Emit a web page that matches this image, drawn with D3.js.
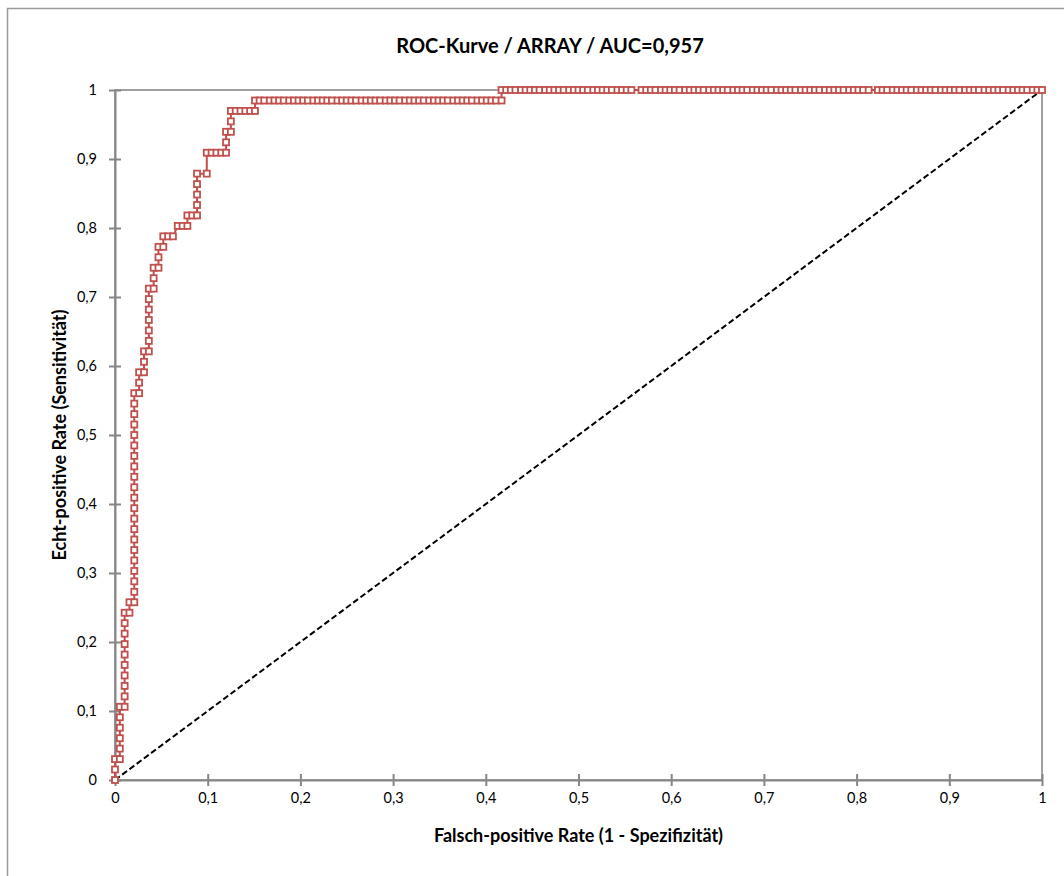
<!DOCTYPE html>
<html>
<head>
<meta charset="utf-8">
<script src="https://cdn.jsdelivr.net/npm/d3@7"></script>
<style>
  body { margin: 0; background: #fff; }
  text { font-family: Lato, 'Open Sans', sans-serif; fill: #000; }
</style>
</head>
<body>
<svg id="chart" width="1064" height="876"></svg>
<script>
'use strict'

// ROC points (false positive rate / true positive rate)
const fpr = [
  0, 0, 0,
  0.0052, 0.0052, 0.0052, 0.0052, 0.0052, 0.0052,
  0.0104, 0.0104, 0.0104, 0.0104, 0.0104, 0.0104, 0.0104, 0.0104, 0.0104, 0.0104,
  0.0156, 0.0156,
  0.0208, 0.0208, 0.0208, 0.0208, 0.0208, 0.0208, 0.0208, 0.0208, 0.0208, 0.0208,
  0.0208, 0.0208, 0.0208, 0.0208, 0.0208, 0.0208, 0.0208, 0.0208, 0.0208, 0.0208, 0.0208,
  0.026, 0.026, 0.026,
  0.0313, 0.0313, 0.0313,
  0.0365, 0.0365, 0.0365, 0.0365, 0.0365, 0.0365, 0.0365,
  0.0417, 0.0417, 0.0417,
  0.0469, 0.0469, 0.0469,
  0.0521, 0.0521,
  0.0573, 0.0625,
  0.0677, 0.0729, 0.0781,
  0.0781, 0.0833, 0.0885,
  0.0885, 0.0885, 0.0885, 0.0885,
  0.099,
  0.099, 0.1042, 0.1094, 0.1146, 0.1198,
  0.1198, 0.1198,
  0.125, 0.125, 0.125,
  0.1302, 0.1354, 0.1406, 0.1458, 0.151,
  0.151, 0.156, 0.161, 0.167, 0.172, 0.177, 0.182, 0.188, 0.193, 0.198,
  0.203, 0.208, 0.214, 0.219, 0.224, 0.229, 0.234, 0.24, 0.245, 0.25,
  0.255, 0.26, 0.266, 0.271, 0.276, 0.281, 0.286, 0.292, 0.297, 0.302,
  0.307, 0.313, 0.318, 0.323, 0.328, 0.333, 0.339, 0.344, 0.349, 0.354,
  0.359, 0.365, 0.37, 0.375, 0.38, 0.385, 0.391, 0.396, 0.401, 0.406,
  0.411, 0.417,
  0.417, 0.422, 0.427, 0.432, 0.438, 0.443, 0.448, 0.453, 0.458, 0.464,
  0.469, 0.474, 0.479, 0.484, 0.49, 0.495, 0.5, 0.505, 0.51, 0.516,
  0.521, 0.526, 0.531, 0.536, 0.542, 0.547, 0.552, 0.557,
  0.568, 0.573, 0.578, 0.583, 0.589, 0.594, 0.599, 0.604, 0.609, 0.615,
  0.62, 0.625, 0.63, 0.635, 0.641, 0.646, 0.651, 0.656, 0.661, 0.667,
  0.672, 0.677, 0.682, 0.688, 0.693, 0.698, 0.703, 0.708, 0.714, 0.719,
  0.724, 0.729, 0.734, 0.74, 0.745, 0.75, 0.755, 0.76, 0.766, 0.771,
  0.776, 0.781, 0.786, 0.792, 0.797, 0.802, 0.807, 0.813,
  0.823, 0.828, 0.833, 0.839, 0.844, 0.849, 0.854, 0.859, 0.865, 0.87,
  0.875, 0.88, 0.885, 0.891, 0.896, 0.901, 0.906, 0.911, 0.917, 0.922,
  0.927, 0.932, 0.938, 0.943, 0.948, 0.953, 0.958, 0.964, 0.969, 0.974,
  0.979, 0.984, 0.99, 0.995, 1
]

const tpr = [
  0, 0.0152, 0.0303,
  0.0303, 0.0455, 0.0606, 0.0758, 0.0909, 0.1061,
  0.1061, 0.1212, 0.1364, 0.1515, 0.1667, 0.1818, 0.197, 0.2121, 0.2273, 0.2424,
  0.2424, 0.2576,
  0.2576, 0.2727, 0.2879, 0.303, 0.3182, 0.3333, 0.3485, 0.3636, 0.3788, 0.3939,
  0.4091, 0.4242, 0.4394, 0.4545, 0.4697, 0.4848, 0.5, 0.5152, 0.5303, 0.5455, 0.5606,
  0.5606, 0.5758, 0.5909,
  0.5909, 0.6061, 0.6212,
  0.6212, 0.6364, 0.6515, 0.6667, 0.6818, 0.697, 0.7121,
  0.7121, 0.7273, 0.7424,
  0.7424, 0.7576, 0.7727,
  0.7727, 0.7879,
  0.7879, 0.7879,
  0.803, 0.803, 0.803,
  0.8182, 0.8182, 0.8182,
  0.8333, 0.8485, 0.8636, 0.8788,
  0.8788,
  0.9091, 0.9091, 0.9091, 0.9091, 0.9091,
  0.9242, 0.9394,
  0.9394, 0.9545, 0.9697,
  0.9697, 0.9697, 0.9697, 0.9697, 0.9697,
  0.9848, 0.9848, 0.9848, 0.9848, 0.9848, 0.9848, 0.9848, 0.9848, 0.9848, 0.9848,
  0.9848, 0.9848, 0.9848, 0.9848, 0.9848, 0.9848, 0.9848, 0.9848, 0.9848, 0.9848,
  0.9848, 0.9848, 0.9848, 0.9848, 0.9848, 0.9848, 0.9848, 0.9848, 0.9848, 0.9848,
  0.9848, 0.9848, 0.9848, 0.9848, 0.9848, 0.9848, 0.9848, 0.9848, 0.9848, 0.9848,
  0.9848, 0.9848, 0.9848, 0.9848, 0.9848, 0.9848, 0.9848, 0.9848, 0.9848, 0.9848,
  0.9848, 0.9848,
  1, 1, 1, 1, 1, 1, 1, 1, 1, 1,
  1, 1, 1, 1, 1, 1, 1, 1, 1, 1,
  1, 1, 1, 1, 1, 1, 1, 1,
  1, 1, 1, 1, 1, 1, 1, 1, 1, 1,
  1, 1, 1, 1, 1, 1, 1, 1, 1, 1,
  1, 1, 1, 1, 1, 1, 1, 1, 1, 1,
  1, 1, 1, 1, 1, 1, 1, 1, 1, 1,
  1, 1, 1, 1, 1, 1, 1, 1,
  1, 1, 1, 1, 1, 1, 1, 1, 1, 1,
  1, 1, 1, 1, 1, 1, 1, 1, 1, 1,
  1, 1, 1, 1, 1, 1, 1, 1, 1, 1,
  1, 1, 1, 1, 1
]

// chance line
const diagonal = [0, 1]
const ticks = [0, 0.1, 0.2, 0.3, 0.4, 0.5, 0.6, 0.7, 0.8, 0.9, 1]

const title = 'ROC-Kurve / ARRAY / AUC=0,957'
const xTitle = 'Falsch-positive Rate (1 - Spezifizität)'
const yTitle = 'Echt-positive Rate (Sensitivität)'

var svg = d3.select('#chart')
var plotLeft = 115
var plotRight = 1042
var plotTop = 90
var plotBottom = 780
var red = '#c0504d'
var grey = '#878787'

var x = d3.scaleLinear().domain([0, 1]).range([plotLeft, plotRight])
var y = d3.scaleLinear().domain([0, 1]).range([plotBottom, plotTop])

// German decimal comma
var de = d3.formatLocale({ decimal: ',', thousands: '.', grouping: [3], currency: ['', ' €'] })
var fmt = de.format('~g')

// chart frame (only left/top edge fall inside the picture)
svg.append('rect')
  .attr('x', 7.5).attr('y', 8.5)
  .attr('width', 1120).attr('height', 900)
  .attr('fill', '#fff')
  .attr('stroke', '#9a9a9a')
  .attr('stroke-width', 1.5)

// plot area border
svg.append('rect')
  .attr('x', plotLeft).attr('y', plotTop)
  .attr('width', plotRight - plotLeft).attr('height', plotBottom - plotTop)
  .attr('fill', 'none')
  .attr('stroke', '#a0a0a0')
  .attr('stroke-width', 2)

var xAxis = svg.append('g')
  .attr('transform', 'translate(0,' + plotBottom + ')')
  .call(d3.axisBottom(x).tickValues(ticks).tickFormat(fmt)
    .tickSizeInner(6).tickSizeOuter(0).tickPadding(7))

var yAxis = svg.append('g')
  .attr('transform', 'translate(' + plotLeft + ',0)')
  .call(d3.axisLeft(y).tickValues(ticks).tickFormat(fmt)
    .tickSizeInner(6).tickSizeOuter(0).tickPadding(12))

// Excel style ticks crossing the axis line
xAxis.selectAll('.tick line').attr('y1', -6)
yAxis.selectAll('.tick line').attr('x1', 6)

svg.selectAll('.domain').attr('stroke', grey).attr('stroke-width', 2)
svg.selectAll('.tick line').attr('stroke', grey).attr('stroke-width', 2)
svg.selectAll('.tick text')
  .attr('font-size', 14.5)
  .attr('font-family', 'Lato, sans-serif')
  .attr('fill', '#000')

// diagonal reference
svg.append('line')
  .attr('x1', x(diagonal[0])).attr('y1', y(diagonal[0]))
  .attr('x2', x(diagonal[1])).attr('y2', y(diagonal[1]))
  .attr('stroke', '#000')
  .attr('stroke-width', 2)
  .attr('stroke-dasharray', '6,3')

var points = d3.zip(fpr, tpr)

var line = d3.line()
  .x((d) => x(d[0]))
  .y((d) => y(d[1]))

svg.append('path')
  .datum(points)
  .attr('d', line)
  .attr('fill', 'none')
  .attr('stroke', red)
  .attr('stroke-width', 2)

svg.append('g')
  .selectAll('rect')
  .data(points)
  .enter().append('rect')
    .attr('x', (d) => x(d[0]) - 3)
    .attr('y', (d) => y(d[1]) - 3)
    .attr('width', 6)
    .attr('height', 6)
    .attr('fill', '#fff')
    .attr('stroke', red)
    .attr('stroke-width', 1.8)

// titles
svg.append('text')
  .attr('x', 550).attr('y', 53)
  .attr('text-anchor', 'middle')
  .attr('font-size', 20)
  .attr('font-weight', 'bold')
  .text(title)

svg.append('text')
  .attr('x', (plotLeft + plotRight) / 2).attr('y', 842)
  .attr('text-anchor', 'middle')
  .attr('font-size', 18)
  .attr('font-weight', 'bold')
  .text(xTitle)

svg.append('text')
  .attr('transform', 'translate(66,' + (plotTop + plotBottom) / 2 + ') rotate(-90)')
  .attr('text-anchor', 'middle')
  .attr('font-size', 18)
  .attr('font-weight', 'bold')
  .text(yTitle)
</script>
</body>
</html>
